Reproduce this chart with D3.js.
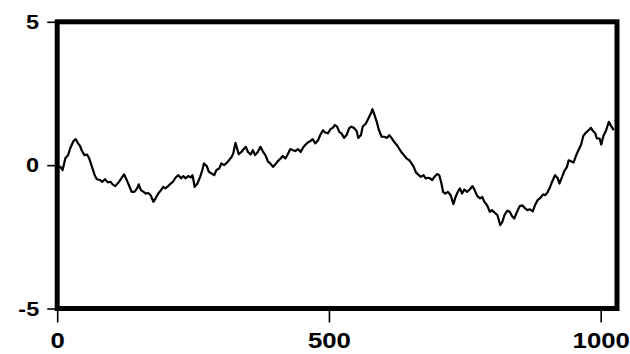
<!DOCTYPE html>
<html>
<head>
<meta charset="utf-8">
<script src="https://cdn.jsdelivr.net/npm/d3@7"></script>
<style>
  html, body { margin: 0; padding: 0; background: #fff; }
  svg { display: block; }
</style>
</head>
<body>
<svg id="chart" width="630" height="354"></svg>
<script>
// Series (step index, value)
const steps = [0,6,10,15,20,24,30,34,38,42,45,50,55,59,64,69,73,79,83,88,93,98,102,107,113,118,123,128,132,137,142,147,150,154,159,163,167,172,177,181,186,191,195,199,204,209,213,218,223,228,232,236,241,246,249,253,258,263,267,270,275,279,284,289,293,298,302,307,312,316,321,324,328,331,334,339,344,347,351,356,360,364,369,374,378,383,388,392,397,401,406,411,415,420,424,429,434,438,443,448,452,456,461,466,470,475,480,484,489,493,498,503,507,511,515,519,523,528,533,537,541,546,551,554,559,562,568,572,577,580,583,588,592,597,602,607,611,615,620,625,629,633,638,643,648,652,656,660,664,669,674,678,683,686,690,694,699,703,707,710,714,719,724,729,733,737,741,745,749,754,759,764,768,773,778,782,786,791,796,800,805,810,815,819,823,828,833,837,841,846,851,856,861,865,870,875,879,884,889,894,898,902,907,911,916,921,924,929,933,938,941,945,950,955,959,964,968,973,978,982,986,990,993,998,1001,1005,1010,1015,1019,1024];
const values = [-0.07,-0.06,-0.17,0.24,0.35,0.59,0.84,0.91,0.77,0.67,0.52,0.35,0.37,0.23,-0.06,-0.35,-0.49,-0.52,-0.58,-0.49,-0.60,-0.58,-0.67,-0.73,-0.60,-0.46,-0.32,-0.52,-0.70,-0.93,-0.93,-0.81,-0.67,-0.87,-0.93,-0.99,-0.97,-1.05,-1.28,-1.16,-0.99,-0.87,-0.76,-0.81,-0.73,-0.64,-0.58,-0.43,-0.35,-0.46,-0.38,-0.46,-0.38,-0.43,-0.35,-0.76,-0.64,-0.41,-0.17,0.06,-0.03,-0.23,-0.29,-0.35,-0.17,-0.12,0.06,0.00,0.08,0.17,0.29,0.41,0.78,0.58,0.38,0.46,0.58,0.64,0.46,0.37,0.52,0.35,0.46,0.64,0.49,0.35,0.12,0.06,-0.06,0.02,0.14,0.23,0.32,0.23,0.37,0.56,0.52,0.49,0.56,0.46,0.60,0.70,0.79,0.84,0.91,0.76,0.87,1.05,1.22,1.14,1.11,1.26,1.30,1.40,1.34,1.16,1.11,0.95,1.07,1.28,1.34,1.30,1.19,0.95,1.05,1.34,1.45,1.61,1.80,1.95,1.80,1.51,1.22,0.99,0.99,0.95,1.05,0.95,0.81,0.70,0.58,0.46,0.35,0.23,0.17,0.06,-0.06,-0.25,-0.32,-0.41,-0.35,-0.46,-0.44,-0.46,-0.52,-0.41,-0.31,-0.35,-0.64,-0.93,-0.99,-0.93,-1.05,-1.36,-1.11,-0.93,-0.81,-0.99,-0.85,-0.93,-0.85,-0.73,-0.87,-1.08,-1.16,-1.11,-1.28,-1.40,-1.63,-1.57,-1.66,-1.74,-2.09,-1.98,-1.74,-1.59,-1.63,-1.78,-1.86,-1.63,-1.43,-1.40,-1.51,-1.57,-1.54,-1.61,-1.40,-1.22,-1.14,-1.02,-1.05,-0.95,-0.76,-0.56,-0.35,-0.46,-0.64,-0.41,-0.21,-0.06,0.17,0.14,0.09,0.35,0.52,0.72,1.02,1.14,1.22,1.30,1.19,1.11,0.93,0.93,0.72,1.02,1.22,1.51,1.37,1.22];
const xDomain = [0, 1030];
const yDomain = [-5, 5];
const xTicks = [0, 500, 1000];
const yTicks = [-5, 0, 5];

const svg = d3.select("#chart");
const x = d3.scaleLinear().domain(xDomain).range([57.2, 617]);
const y = d3.scaleLinear().domain(yDomain).range([308.5, 21.8]);

const FONT = "'Liberation Sans', Arial, Helvetica, sans-serif";
const SX = 1.12;
const fmt = d => String(d); // plain hyphen for negatives, as in the original

// y axis ticks
const gy = svg.append("g").attr("transform", `translate(${x(0)},0)`)
  .call(d3.axisLeft(y).tickValues(yTicks).tickSize(10).tickPadding(8).tickFormat(fmt));
gy.select(".domain").remove();
gy.selectAll(".tick line").attr("stroke", "#000").attr("stroke-width", 1.6);
gy.selectAll(".tick text").each(function() {
  const t = d3.select(this);
  const tx = +t.attr("x");
  t.attr("x", 0).attr("transform", `translate(${tx},0) scale(${SX},1)`)
   .attr("font-family", FONT).attr("font-size", 21).attr("font-weight", "bold").attr("fill", "#000");
});

// x axis ticks
const gx = svg.append("g").attr("transform", `translate(0,${y(-5)})`)
  .call(d3.axisBottom(x).tickValues(xTicks).tickSize(14).tickPadding(9).tickFormat(fmt));
gx.select(".domain").remove();
gx.selectAll(".tick line").attr("stroke", "#000").attr("stroke-width", 1.6);
gx.selectAll(".tick text").each(function() {
  const t = d3.select(this);
  const ty = +t.attr("y");
  t.attr("y", 0).attr("transform", `translate(0,${ty}) scale(${SX},1)`)
   .attr("font-family", FONT).attr("font-size", 23).attr("font-weight", "bold").attr("fill", "#000");
});

// data line
const pts = steps.map((s, i) => [s, values[i]]);
svg.append("path")
  .datum(pts)
  .attr("fill", "none")
  .attr("stroke", "#000")
  .attr("stroke-width", 2.2)
  .attr("stroke-linejoin", "round")
  .attr("d", d3.line().x(d => x(d[0])).y(d => y(d[1])));

// frame
svg.append("rect")
  .attr("x", x(0)).attr("y", y(5))
  .attr("width", x(1030) - x(0)).attr("height", y(-5) - y(5))
  .attr("fill", "none").attr("stroke", "#000").attr("stroke-width", 5);
</script>
</body>
</html>
